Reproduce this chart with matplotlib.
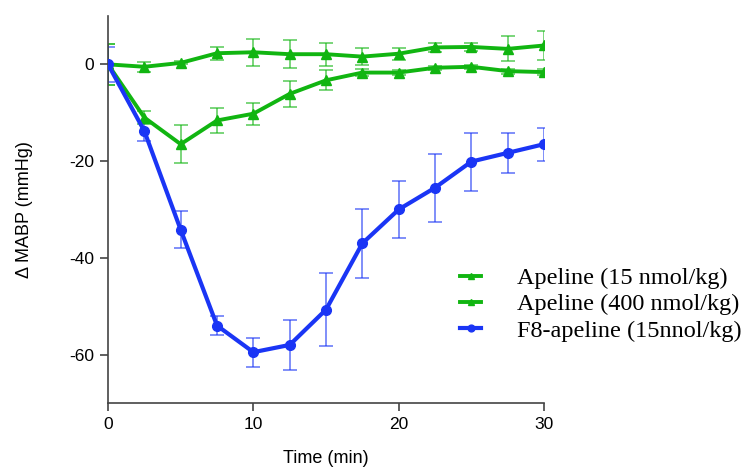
import numpy as np
import matplotlib.pyplot as plt

plt.rcParams["axes.unicode_minus"] = False

time = [0, 2.5, 5, 7.5, 10, 12.5, 15, 17.5, 20, 22.5, 25, 27.5, 30]

apeline_15 = [0, -0.5, 0.3, 2.3, 2.5, 2.1, 2.1, 1.6, 2.2, 3.5, 3.6, 3.2, 3.9]
apeline_15_err = [4.3, 1.0, 0.3, 1.3, 2.8, 2.9, 2.4, 1.7, 1.2, 1.0, 0.9, 2.6, 3.0]

apeline_400 = [0, -11, -16.5, -11.6, -10.2, -6.1, -3.3, -1.7, -1.7, -0.7, -0.5, -1.4, -1.6]
apeline_400_err = [4.3, 1.4, 3.9, 2.6, 2.3, 2.7, 2.1, 0.8, 0.5, 0.4, 0.4, 0.5, 0.7]

f8_apeline = [0, -13.8, -34.2, -54, -59.5, -58, -50.7, -37, -30, -25.5, -20.1, -18.3, -16.5]
f8_apeline_err = [3.6, 2.1, 3.8, 1.9, 3.0, 5.1, 7.5, 7.1, 5.8, 7.0, 6.0, 4.1, 3.4]

labels = ["Apeline (15 nmol/kg)", "Apeline (400 nmol/kg)", "F8-apeline (15nnol/kg)"]

green = "#11b511"
blue = "#1a35f5"

fig = plt.figure(figsize=(7.56, 4.70), dpi=100)
ax = fig.add_axes([0.1429, 0.1426, 0.7196 - 0.1429, 0.966 - 0.1426])

series = [
    (apeline_15, apeline_15_err, green, "^", 7, 2.8),
    (apeline_400, apeline_400_err, green, "^", 7, 2.8),
    (f8_apeline, f8_apeline_err, blue, "o", 7, 3.0),
]
handles = []
for (vals, err, col, mk, ms, lw), lab in zip(series, labels):
    ax.errorbar(time, vals, yerr=err, fmt="none", ecolor=col, elinewidth=1.2,
                capsize=5, capthick=1.2, alpha=0.65, zorder=2)
    h, = ax.plot(time, vals, color=col, marker=mk, markersize=ms, lw=lw,
                 label=lab, zorder=3)
    handles.append(h)

ax.set_xlim(0, 30)
ax.set_ylim(-70, 10)
ax.set_xticks([0, 10, 20, 30])
ax.set_yticks([0, -20, -40, -60])
ax.spines["top"].set_visible(False)
ax.spines["right"].set_visible(False)
for s in ["left", "bottom"]:
    ax.spines[s].set_color("#444444")
    ax.spines[s].set_linewidth(1.2)
ax.tick_params(direction="out", length=6, width=1.2, colors="#444444",
               labelcolor="black", labelsize=12.5, pad=4)
for t in ax.get_xticklabels() + ax.get_yticklabels():
    t.set_family("Liberation Sans")
ax.set_xlabel("Time (min)", fontsize=13, family="Liberation Sans", labelpad=13)
ax.set_ylabel("Δ MABP (mmHg)", fontsize=13, family="Liberation Sans", labelpad=26)

leg = fig.legend(handles=handles, labels=labels, loc="upper left",
                 bbox_to_anchor=(0.579, 0.478), frameon=False,
                 prop={"family": "Liberation Serif", "size": 17.5},
                 handlelength=0.9, handletextpad=1.45, labelspacing=0.17,
                 markerscale=0.7)

fig.savefig("out.png", dpi=100)
